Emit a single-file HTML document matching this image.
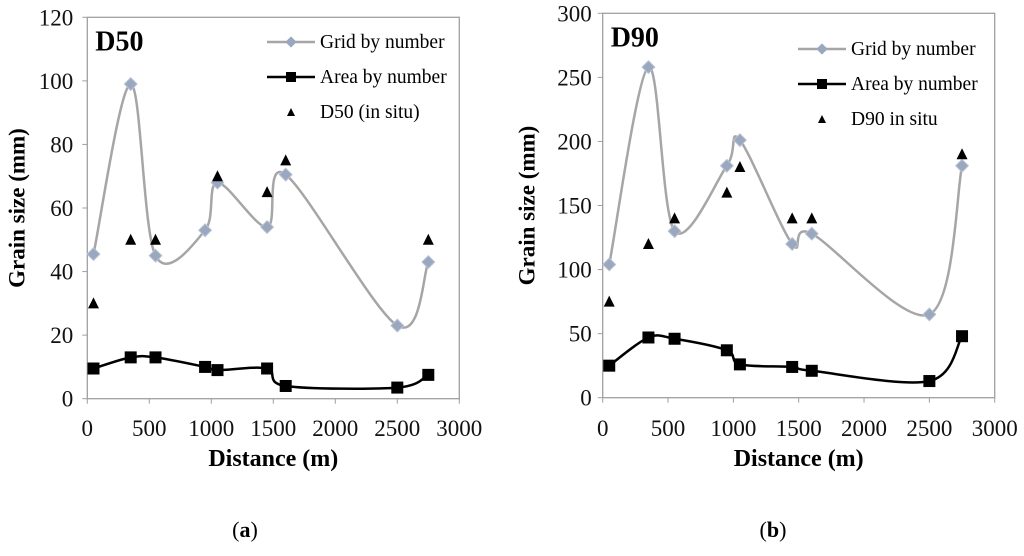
<!DOCTYPE html>
<html><head><meta charset="utf-8"><style>
body{margin:0;background:#fff;}
svg text{font-family:"Liberation Serif",serif;}
</style></head><body>
<svg id="s" width="1024" height="551" xmlns="http://www.w3.org/2000/svg"></svg>
<script>
const distances=[50,350,550,950,1050,1450,1600,2500,2750];
const d50Grid=[45.5,99,45,53,68,54,70.5,23,43];
const d50Area=[9.5,13,13,10,9,9.5,4,3.5,7.5];
const d50InsituX=[50,350,550,1050,1450,1600,2750];
const d50InsituY=[30,50,50,70,65,75,50];
const d90Grid=[104,258,130,181,201,120,128,65,181];
const d90Area=[25,47,46,37,26,24,21,13,48];
const d90InsituX=[50,350,550,950,1050,1450,1600,2750];
const d90InsituY=[75,120,140,160,180,140,140,190];
const xTicks=[0,500,1000,1500,2000,2500,3000];
const d50YTicks=[0,20,40,60,80,100,120];
const d90YTicks=[0,50,100,150,200,250,300];

const svg=document.getElementById('s');
const NS='http://www.w3.org/2000/svg';
function el(tag,attrs,parent){const e=document.createElementNS(NS,tag);for(const k in attrs)e.setAttribute(k,attrs[k]);(parent||svg).appendChild(e);return e;}
function txt(s,attrs,parent){const e=el('text',attrs,parent);e.textContent=s;return e;}
function smooth(pts){let d='M'+pts[0][0]+','+pts[0][1];for(let i=0;i<pts.length-1;i++){const p0=pts[Math.max(0,i-1)],p1=pts[i],p2=pts[i+1],p3=pts[Math.min(pts.length-1,i+2)];const t=6;d+=' C'+(p1[0]+(p2[0]-p0[0])/t)+','+(p1[1]+(p2[1]-p0[1])/t)+' '+(p2[0]-(p3[0]-p1[0])/t)+','+(p2[1]-(p3[1]-p1[1])/t)+' '+p2[0]+','+p2[1];}return d;}

function chart(o){
  const g=el('g',{});
  
  
  const sx=v=>o.x0+(o.x1-o.x0)*v/3000;
  const sy=v=>o.y0-(o.y0-o.y1)*v/o.ymax;
  const fr=el('rect',{x:o.x0,y:o.y1,width:o.x1-o.x0,height:o.y0-o.y1,fill:'none',stroke:'#a0a0a0','stroke-width':1.3},g);
  
  xTicks.forEach(v=>{el('line',{x1:sx(v),x2:sx(v),y1:o.y0,y2:o.y0+5,stroke:'#a0a0a0'},g);
    const t=txt(String(v),{x:sx(v),y:436,'font-size':23,'text-anchor':'middle',fill:'#111'},g);
    });
  o.yt.forEach(v=>{el('line',{x1:o.x0-5,x2:o.x0,y1:sy(v),y2:sy(v),stroke:'#a0a0a0'},g);
    const t=txt(String(v),{x:o.x0-o.ytg,y:sy(v)+8,'font-size':23,'text-anchor':'end',fill:'#111'},g);
    });
  const yt=txt('Grain size (mm)',{x:0,y:0,'font-size':23,'font-weight':'bold','text-anchor':'middle',transform:'translate('+(o.x0-o.ytx)+','+((o.y0+o.y1)/2)+') rotate(-90)'},g);
  
  const xt=txt('Distance (m)',{x:(o.x0+o.x1)/2,y:466,'font-size':24,'font-weight':'bold','text-anchor':'middle'},g);
  
  const pl=txt(o.title,{x:o.x0+8,y:o.y1+33,'font-size':28,'font-weight':'bold'},g);
  
  const gp=distances.map((d,i)=>[sx(d),sy(o.grid[i])]);
  const gl=el('path',{d:smooth(gp),fill:'none',stroke:'#a6a6a6','stroke-width':2.5},g);
  
  gp.forEach(p=>{const m=el('rect',{x:p[0]-4.5,y:p[1]-4.5,width:9,height:9,fill:'#9aa8bf',stroke:'#b8c2d4','stroke-width':1,transform:'rotate(45 '+p[0]+' '+p[1]+')'},g);
    });
  const ap=distances.map((d,i)=>[sx(d),sy(o.area[i])]);
  const al=el('path',{d:smooth(ap),fill:'none',stroke:'#000','stroke-width':2.5},g);
  
  ap.forEach(p=>{const m=el('rect',{x:p[0]-6,y:p[1]-6,width:12,height:12,fill:'#000'},g);
    });
  o.ix.forEach((d,i)=>{const x=sx(d),y=sy(o.iy[i]);const m=el('polygon',{points:(x-5.5)+','+(y+5)+' '+(x+5.5)+','+(y+5)+' '+x+','+(y-6),fill:'#000'},g);
    });
  const lx=o.lx,ly=o.ly;
  const l1=el('g',{},g);
  el('line',{x1:lx,x2:lx+48,y1:ly,y2:ly,stroke:'#a6a6a6','stroke-width':2.5},l1);
  el('rect',{x:lx+20,y:ly-4,width:8,height:8,fill:'#9aa8bf',transform:'rotate(45 '+(lx+24)+' '+ly+')'},l1);
  txt('Grid by number',{x:lx+53,y:ly+6,'font-size':19.5},l1);
  const l2=el('g',{},g);
  el('line',{x1:lx,x2:lx+48,y1:ly+35,y2:ly+35,stroke:'#000','stroke-width':2.5},l2);
  el('rect',{x:lx+19,y:ly+30,width:10,height:10,fill:'#000'},l2);
  txt('Area by number',{x:lx+53,y:ly+41,'font-size':19.5},l2);
  const l3=el('g',{},g);
  el('polygon',{points:(lx+20)+','+(ly+74)+' '+(lx+28)+','+(ly+74)+' '+(lx+24)+','+(ly+66),fill:'#000'},l3);
  txt(o.ilab,{x:lx+53,y:ly+76,'font-size':19.5},l3);
  const c=el('text',{x:o.capx,y:537,'font-size':22,'text-anchor':'middle'},g);
  c.innerHTML='(<tspan font-weight="bold">'+o.cap+'</tspan>)';
  
}
chart({name:'chart-d50',x0:87.3,x1:459.3,y0:398.7,y1:17.3,ymax:120,yt:d50YTicks,ytg:14,ytx:63,title:'D50',grid:d50Grid,area:d50Area,ix:d50InsituX,iy:d50InsituY,lx:267,ly:42,ilab:'D50 (in situ)',cap:'a',capx:245});
chart({name:'chart-d90',x0:602.7,x1:994.7,y0:397.7,y1:13.3,ymax:300,yt:d90YTicks,ytg:11,ytx:68,title:'D90',grid:d90Grid,area:d90Area,ix:d90InsituX,iy:d90InsituY,lx:798,ly:49,ilab:'D90 in situ',cap:'b',capx:773});
</script>
</body></html>
